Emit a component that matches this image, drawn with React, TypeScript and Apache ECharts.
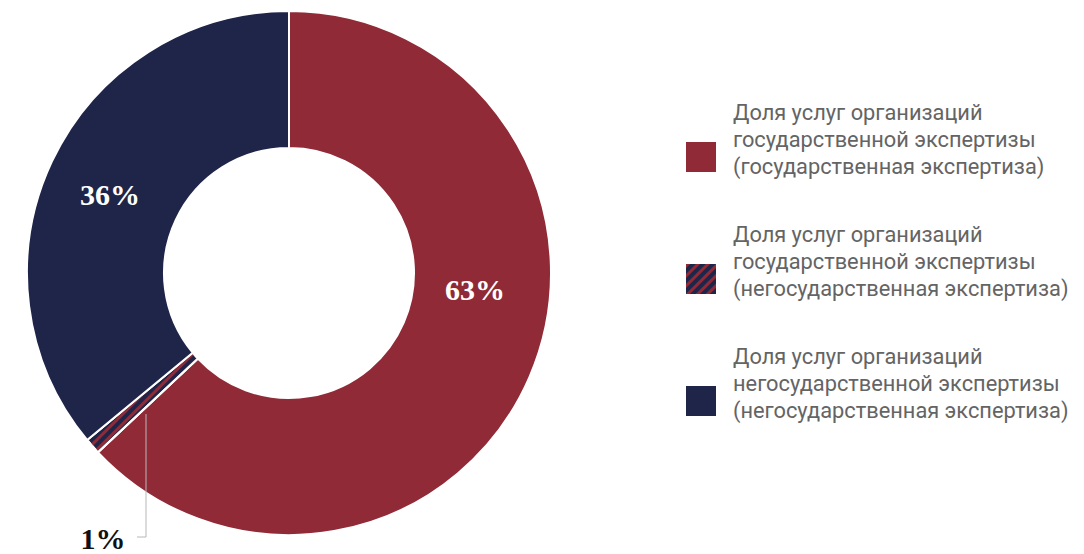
import React, { useEffect, useRef } from "react";
import * as echarts from "echarts";

const categories = [
  "Доля услуг организаций государственной экспертизы (государственная экспертиза)",
  "Доля услуг организаций государственной экспертизы (негосударственная экспертиза)",
  "Доля услуг организаций негосударственной экспертизы (негосударственная экспертиза)",
];
const legendLines = [
  ["Доля услуг организаций", "государственной экспертизы", "(государственная экспертиза)"],
  ["Доля услуг организаций", "государственной экспертизы", "(негосударственная экспертиза)"],
  ["Доля услуг организаций", "негосударственной экспертизы", "(негосударственная экспертиза)"],
];
const values = [63, 1, 36];

const RED = "#8f2a36";
const NAVY = "#1f2549";

export default function App() {
  const ref = useRef<HTMLDivElement>(null);
  useEffect(() => {
    if (!ref.current) return;
    const chart = echarts.init(ref.current, null, { renderer: "svg" });
    const serif = "'Liberation Serif', 'Times New Roman', serif";
    const data = [
      {
        name: categories[0],
        value: values[0],
        itemStyle: { color: RED },
        label: { color: "#fff" },
      },
      {
        name: categories[1],
        value: values[1],
        itemStyle: {
          color: NAVY,
          decal: {
            symbol: "rect",
            symbolSize: 1,
            color: RED,
            dashArrayX: [1, 0],
            dashArrayY: [3, 4],
            rotation: -Math.PI / 4,
          },
        },
        label: { position: "outside", color: "#111" },
        labelLine: { show: false },
      },
      {
        name: categories[2],
        value: values[2],
        itemStyle: { color: NAVY },
        label: { color: "#fff" },
      },
    ];
    chart.setOption({
      animation: false,
      backgroundColor: "#fff",
      legend: {
        orient: "vertical",
        left: 686,
        top: 101,
        padding: 0,
        itemWidth: 30,
        itemHeight: 30,
        itemGap: 20.5,
        icon: "rect",
        itemStyle: { borderWidth: 0 },
        data: categories,
        formatter: (name: string) =>
          legendLines[categories.indexOf(name)].map((l) => `{t|${l}}`).join("\n") + "\n{pad| }",
        textStyle: {
          fontFamily: "Roboto, 'Noto Sans', sans-serif",
          fontSize: 22,
          color: "#646464",
          padding: [0, 0, 0, 12],
          rich: {
            t: {
              fontFamily: "Roboto, 'Noto Sans', sans-serif",
              fontSize: 21.8,
              color: "#646464",
              lineHeight: 27,
            },
            pad: { fontSize: 10, lineHeight: 36 },
          },
        },
        selectedMode: false,
      },
      graphic: [
        {
          type: "polyline",
          z: 100,
          shape: {
            points: [
              [146, 414],
              [146, 537],
              [137, 537],
            ],
          },
          style: { stroke: "#b8b8b8", lineWidth: 1, fill: "none" },
          silent: true,
        },
      ],
      series: [
        {
          type: "pie",
          center: [289, 273],
          radius: [125, 262],
          startAngle: 90,
          clockwise: true,
          avoidLabelOverlap: false,
          itemStyle: { borderColor: "#fff", borderWidth: 2 },
          label: {
            show: true,
            position: "inside",
            formatter: "{c}%",
            fontFamily: serif,
            fontWeight: "bold",
            fontSize: 30,
          },
          labelLayout: (params: any) => {
            if (params.dataIndex === 0) {
              return { x: 475, y: 289, align: "center", verticalAlign: "middle" };
            }
            if (params.dataIndex === 1) {
              return { x: 103, y: 538, align: "center", verticalAlign: "middle" };
            }
            if (params.dataIndex === 2) {
              return { x: 110, y: 194, align: "center", verticalAlign: "middle" };
            }
            return {};
          },
          emphasis: { disabled: true },
          data,
        },
      ],
    });
    return () => chart.dispose();
  }, []);
  return (
    <div
      ref={ref}
      style={{ position: "fixed", left: 0, top: 0, width: 1084, height: 554 }}
    />
  );
}
